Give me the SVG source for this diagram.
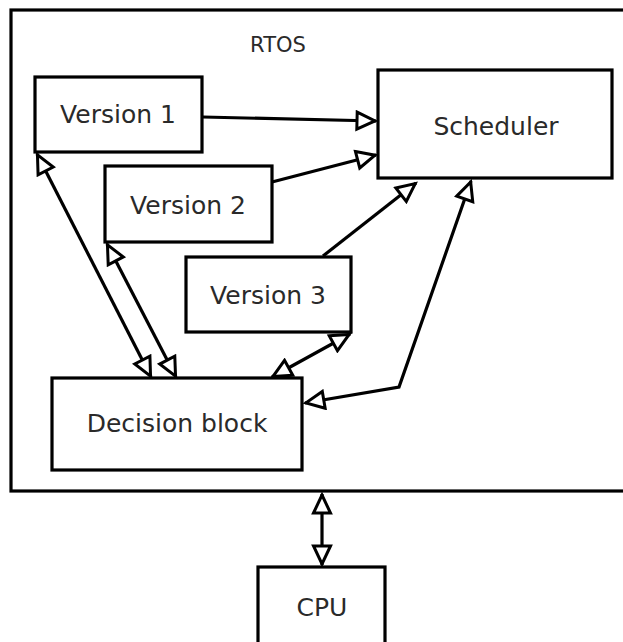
<svg xmlns="http://www.w3.org/2000/svg" width="623" height="642" viewBox="0 0 623 642">
<defs>
<marker id="ah" viewBox="0 0 26 22" refX="22" refY="11" markerWidth="26" markerHeight="22" markerUnits="userSpaceOnUse" orient="auto-start-reverse">
<path d="M3,2.5 L21,11 L3,19.5 Z" fill="#fff" stroke="#000" stroke-width="3" stroke-linejoin="miter"/>
</marker>
<style>
.box{fill:#fff;stroke:#000;stroke-width:3.2}
.lbl{font-family:"DejaVu Sans",sans-serif;font-size:25px;fill:#2a2a2a;text-anchor:middle}
.c{fill:none;stroke:#000;stroke-width:3.2}
</style>
</defs>
<rect width="623" height="642" fill="#fff"/>
<g id="rtos">
<rect x="11" y="10" width="640" height="481" class="box"/>
<text x="278" y="52" class="lbl" style="font-size:21px">RTOS</text>
</g>
<g id="version1">
<rect x="35" y="77" width="167" height="75" class="box"/>
<text x="118" y="123" class="lbl">Version 1</text>
</g>
<g id="scheduler">
<rect x="378" y="70" width="234" height="108" class="box"/>
<text x="496" y="135" class="lbl">Scheduler</text>
</g>
<g id="version2">
<rect x="105" y="166" width="167" height="76" class="box"/>
<text x="188" y="214" class="lbl">Version 2</text>
</g>
<g id="version3">
<rect x="186" y="257" width="165" height="75" class="box"/>
<text x="268" y="304" class="lbl">Version 3</text>
</g>
<g id="decision">
<rect x="52" y="378" width="250" height="92" class="box"/>
<text x="177" y="432" class="lbl">Decision block</text>
</g>
<g id="cpu">
<rect x="258" y="567" width="127" height="90" class="box"/>
<text x="322" y="616" class="lbl">CPU</text>
</g>
<g id="connectors">
<path class="c" d="M203,117 L376,121" marker-end="url(#ah)"/>
<path class="c" d="M272,182 L376,155" marker-end="url(#ah)"/>
<path class="c" d="M323,256 L416,183" marker-end="url(#ah)"/>
<path class="c" d="M37,154 L151,377" marker-start="url(#ah)" marker-end="url(#ah)"/>
<path class="c" d="M107,244 L176,377" marker-start="url(#ah)" marker-end="url(#ah)"/>
<path class="c" d="M350,334 L272,377" marker-start="url(#ah)" marker-end="url(#ah)"/>
<path class="c" d="M471,181 L399,387 L305,403" marker-start="url(#ah)" marker-end="url(#ah)"/>
<path class="c" d="M322,494 L322,565" marker-start="url(#ah)" marker-end="url(#ah)"/>
</g>
</svg>
